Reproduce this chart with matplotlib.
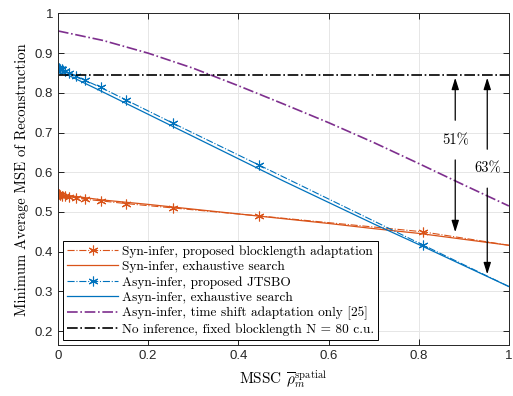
import matplotlib
matplotlib.use("Agg")
import matplotlib.pyplot as plt
import numpy as np

# ---- data ----
# marker positions for the proposed schemes (dense near 0)
x_prop = [0.0, 0.002, 0.005, 0.01, 0.016, 0.025, 0.039, 0.059, 0.0945, 0.151, 0.256, 0.446, 0.809, 1.0]
syn_prop = [0.545, 0.544, 0.543, 0.541, 0.540, 0.538, 0.536, 0.532, 0.528, 0.521, 0.510, 0.490, 0.450, 0.416]
asyn_prop = [0.863, 0.862, 0.861, 0.859, 0.856, 0.851, 0.843, 0.832, 0.814, 0.782, 0.723, 0.618, 0.417, 0.312]

x_ex = [0.0, 0.1, 0.2, 0.3, 0.4, 0.5, 0.6, 0.7, 0.8, 0.9, 1.0]
syn_ex = [0.545, 0.530, 0.519, 0.507, 0.495, 0.483, 0.471, 0.458, 0.446, 0.431, 0.416]
asyn_ex = [0.857, 0.802, 0.746, 0.690, 0.634, 0.578, 0.524, 0.470, 0.418, 0.365, 0.312]
asyn_shift = [0.956, 0.932, 0.900, 0.862, 0.818, 0.772, 0.725, 0.675, 0.622, 0.568, 0.515]
no_infer = 0.845

labels = ["Syn-infer, proposed blocklength adaptation",
          "Syn-infer, exhaustive search",
          "Asyn-infer, proposed JTSBO",
          "Asyn-infer, exhaustive search",
          "Asyn-infer, time shift adaptation only [25]",
          "No inference, fixed blocklength N = 80 c.u."]

# arrows: x position, lower end, text, text y, upper segment start, lower segment start
arrows = [(0.881, 0.442, "51%", 0.681, 0.724, 0.638),
          (0.952, 0.336, "63%", 0.609, 0.651, 0.567)]

plt.rcParams['mathtext.fontset'] = 'cm'
serif = ['cmr10', 'DejaVu Serif']

fig = plt.figure(figsize=(5.13, 3.96), dpi=100)
ax = fig.add_axes([0.113, 0.129, 0.879, 0.837])

blue = '#0072BD'
orange = '#D95319'
purple = '#7E2F8E'
star = (6, 2, 0)

ax.plot(x_prop, syn_prop, color=orange, ls='-.', lw=0.8, marker=star, ms=7, mew=0.8,
        markevery=list(range(len(x_prop) - 1)), label=labels[0])
ax.plot(x_ex, syn_ex, color=orange, ls='-', lw=0.9, label=labels[1])
ax.plot(x_prop, asyn_prop, color=blue, ls='-.', lw=0.8, marker=star, ms=7, mew=0.8,
        markevery=list(range(len(x_prop) - 1)), label=labels[2])
ax.plot(x_ex, asyn_ex, color=blue, ls='-', lw=0.9, label=labels[3])
ax.plot(x_ex, asyn_shift, color=purple, ls='-.', lw=1.2, label=labels[4])
ax.plot([0, 1], [no_infer, no_infer], color='black', ls='-.', lw=1.2, label=labels[5])

head = dict(arrowstyle='-|>,head_length=0.7,head_width=0.22', color='black', lw=0.9)
for xa, ylow, txt, yt, ytop_seg, ybot_seg in arrows:
    ax.annotate('', xy=(xa, no_infer), xytext=(xa, ytop_seg), arrowprops=head)
    ax.annotate('', xy=(xa, ylow), xytext=(xa, ybot_seg), arrowprops=head)
    ax.text(xa, yt, txt, ha='center', va='center', fontsize=10.5, family=serif)

ax.set_xlim(0, 1)
ax.set_ylim(0.165, 1)
ax.set_xticks(np.arange(0, 1.01, 0.2))
ax.set_yticks(np.arange(0.2, 1.01, 0.1))
ax.set_xticklabels(['0', '0.2', '0.4', '0.6', '0.8', '1'])
ax.set_yticklabels(['0.2', '0.3', '0.4', '0.5', '0.6', '0.7', '0.8', '0.9', '1'])
ax.tick_params(direction='in', top=True, right=True, length=4, labelsize=9.5, width=0.6)
for lab in ax.get_xticklabels() + ax.get_yticklabels():
    lab.set_family('Liberation Sans')
    lab.set_color('#262626')
ax.grid(True, color='#e6e6e6', lw=0.7)
ax.set_axisbelow(True)
for sp in ax.spines.values():
    sp.set_linewidth(0.7)
    sp.set_color('#262626')

ax.set_ylabel('Minimum Average MSE of Reconstruction', family=serif, fontsize=10.5, labelpad=4)
ax.set_xlabel(r'MSSC $\overline{\rho}_m^{\mathrm{spatial}}$', family=serif, fontsize=11, labelpad=5)

leg = ax.legend(loc='lower left', bbox_to_anchor=(0.003, 0.003), prop={'family': serif, 'size': 9.6},
                handlelength=3.8, handletextpad=0.3, labelspacing=0.22, borderpad=0.3,
                fancybox=False, framealpha=1, edgecolor='black', borderaxespad=0.3)
leg.get_frame().set_linewidth(0.7)

fig.savefig('out.png', dpi=100)
